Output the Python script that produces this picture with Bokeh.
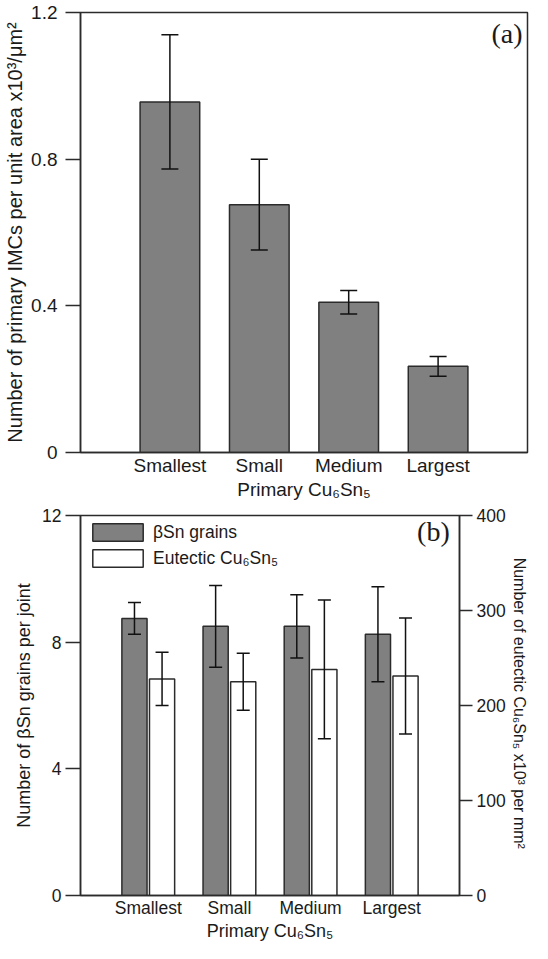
from bokeh.plotting import figure
from bokeh.models import (Range1d, FactorRange, LinearAxis, FixedTicker,
                          ColumnDataSource, Legend, LegendItem, Label)
from bokeh.layouts import column
from bokeh.transform import dodge
from bokeh.embed import file_html
from bokeh.resources import INLINE

# ---------------- data ----------------
sizes = ["Smallest", "Small", "Medium", "Largest"]

# panel (a): primary IMC density (x10^3 / um^2)
imc_density = [0.956, 0.676, 0.410, 0.235]
imc_err = [0.183, 0.124, 0.032, 0.027]

# panel (b): beta-Sn grains per joint (left axis)
bsn_grains = [8.75, 8.50, 8.50, 8.25]
bsn_err = [0.50, 1.29, 1.00, 1.50]

# panel (b): eutectic Cu6Sn5 density x10^3 per mm^2 (right axis)
eut_density = [228, 225, 238, 231]
eut_err = [28, 30, 73, 61]

a_ticks = [0, 0.4, 0.8, 1.2]
b_left_ticks = [0, 4, 8, 12]
b_right_ticks = [0, 100, 200, 300, 400]

SANS = "Liberation Sans"
SERIF = "Liberation Serif"
TXT = "#1a1a1a"
EDGE = "#2b2b2b"
GRAY = "#808080"


def style_axis(ax, tick_font, title_font, tick_out, label_standoff, title_standoff):
    ax.major_label_text_font = SANS
    ax.major_label_text_font_size = tick_font
    ax.major_label_text_color = TXT
    ax.axis_label_text_font = SANS
    ax.axis_label_text_font_size = title_font
    ax.axis_label_text_font_style = "normal"
    ax.axis_label_text_color = TXT
    ax.major_tick_out = tick_out
    ax.major_tick_in = 0
    ax.minor_tick_out = 0
    ax.minor_tick_in = 0
    ax.major_tick_line_color = EDGE
    ax.major_tick_line_width = 1.3
    ax.axis_line_color = EDGE
    ax.axis_line_width = 1.5
    ax.major_label_standoff = label_standoff
    ax.axis_label_standoff = title_standoff


# ---------------- panel (a) ----------------
src_a = ColumnDataSource(dict(
    size=sizes,
    val=imc_density,
    lo=[v - e for v, e in zip(imc_density, imc_err)],
    hi=[v + e for v, e in zip(imc_density, imc_err)],
))

pa = figure(
    x_range=FactorRange(*sizes, range_padding=0.5, range_padding_units="absolute"),
    y_range=Range1d(0, 1.2),
    frame_width=447, frame_height=440,
    min_border_left=80, min_border_right=5, min_border_top=12, min_border_bottom=40,
    output_backend="svg", toolbar_location=None,
)
pa.vbar(x="size", top="val", width=0.667, source=src_a,
        fill_color=GRAY, line_color=EDGE, line_width=1.5)
pa.segment(x0="size", y0="lo", x1="size", y1="hi", source=src_a,
           line_color="#111111", line_width=1.5)
pa.scatter(x="size", y="hi", marker="dash", size=17, source=src_a,
           line_color="#111111", line_width=1.5)
pa.scatter(x="size", y="lo", marker="dash", size=17, source=src_a,
           line_color="#111111", line_width=1.5)

pa.xgrid.visible = False
pa.ygrid.visible = False
pa.outline_line_color = EDGE
pa.outline_line_width = 1.5
pa.outline_line_alpha = 1.0
pa.background_fill_color = "white"
pa.border_fill_color = "white"

pa.yaxis.ticker = FixedTicker(ticks=a_ticks)
pa.yaxis.major_label_overrides = {0: "0", 0.4: "0.4", 0.8: "0.8", 1.2: "1.2"}
pa.yaxis.axis_label = "Number of primary IMCs per unit area x10\u00b3/\u03bcm\u00b2"
style_axis(pa.yaxis[0], "19px", "20px", 15, 8, 2)

pa.xaxis.axis_label = "Primary Cu\u2086Sn\u2085"
style_axis(pa.xaxis[0], "19px", "19px", 0, 2, 0)

pa.add_layout(Label(x=4.445, y=1.184, text="(a)", text_align="right",
                    text_baseline="top", text_font=SERIF,
                    text_font_size="28px", text_color=TXT))

# ---------------- panel (b) ----------------
src_b = ColumnDataSource(dict(
    size=sizes,
    bsn=bsn_grains,
    bsn_lo=[v - e for v, e in zip(bsn_grains, bsn_err)],
    bsn_hi=[v + e for v, e in zip(bsn_grains, bsn_err)],
    eut=eut_density,
    eut_lo=[v - e for v, e in zip(eut_density, eut_err)],
    eut_hi=[v + e for v, e in zip(eut_density, eut_err)],
))

pb = figure(
    x_range=FactorRange(*sizes, range_padding=0.335, range_padding_units="absolute"),
    y_range=Range1d(0, 12),
    frame_width=379, frame_height=380,
    min_border_left=73, min_border_right=80, min_border_top=13, min_border_bottom=36,
    output_backend="svg", toolbar_location=None,
)
pb.extra_y_ranges = {"eut": Range1d(0, 400)}

off = 0.17
bw = 0.31
gray_r = pb.vbar(x=dodge("size", -off, range=pb.x_range), top="bsn", width=bw,
                 source=src_b, fill_color=GRAY, line_color=EDGE, line_width=1.5)
white_r = pb.vbar(x=dodge("size", off, range=pb.x_range), top="eut", width=bw,
                  source=src_b, fill_color="white", line_color=EDGE, line_width=1.5,
                  y_range_name="eut")

xg = dodge("size", -off, range=pb.x_range)
xw = dodge("size", off, range=pb.x_range)
pb.segment(x0=xg, y0="bsn_lo", x1=xg, y1="bsn_hi", source=src_b,
           line_color="#111111", line_width=1.5)
pb.scatter(x=xg, y="bsn_hi", marker="dash", size=13, source=src_b,
           line_color="#111111", line_width=1.5)
pb.scatter(x=xg, y="bsn_lo", marker="dash", size=13, source=src_b,
           line_color="#111111", line_width=1.5)
pb.segment(x0=xw, y0="eut_lo", x1=xw, y1="eut_hi", source=src_b,
           line_color="#111111", line_width=1.5, y_range_name="eut")
pb.scatter(x=xw, y="eut_hi", marker="dash", size=13, source=src_b,
           line_color="#111111", line_width=1.5, y_range_name="eut")
pb.scatter(x=xw, y="eut_lo", marker="dash", size=13, source=src_b,
           line_color="#111111", line_width=1.5, y_range_name="eut")

pb.xgrid.visible = False
pb.ygrid.visible = False
pb.outline_line_color = EDGE
pb.outline_line_width = 1.5
pb.outline_line_alpha = 1.0
pb.background_fill_color = "white"
pb.border_fill_color = "white"

pb.yaxis.ticker = FixedTicker(ticks=b_left_ticks)
pb.yaxis.axis_label = "Number of \u03b2Sn grains per joint"
style_axis(pb.yaxis[0], "17.5px", "18px", 15, 4, 5)

pb.xaxis.axis_label = "Primary Cu\u2086Sn\u2085"
style_axis(pb.xaxis[0], "17.5px", "18px", 0, 2, 0)

right_ax = LinearAxis(y_range_name="eut", ticker=FixedTicker(ticks=b_right_ticks),
                      axis_label="Number of  eutectic Cu\u2086Sn\u2085 x10\u00b3 per mm\u00b2")
style_axis(right_ax, "17.5px", "16px", 13, 4, 2)
pb.add_layout(right_ax, "right")

legend = Legend(items=[LegendItem(label="\u03b2Sn grains", renderers=[gray_r]),
                       LegendItem(label="Eutectic Cu\u2086Sn\u2085", renderers=[white_r])],
                location="top_left", glyph_width=63, glyph_height=22,
                label_height=22, label_standoff=4, spacing=4, padding=6, margin=0,
                border_line_alpha=0, background_fill_alpha=0,
                label_text_font=SANS, label_text_font_size="17.5px",
                label_text_color=TXT)
pb.add_layout(legend)

pb.add_layout(Label(x=4.215, y=11.97, text="(b)", text_align="right",
                    text_baseline="top", text_font=SERIF,
                    text_font_size="28px", text_color=TXT))

layout = column(pa, pb, spacing=0)

with open("out.html", "w") as f:
    f.write(file_html(layout, INLINE))
